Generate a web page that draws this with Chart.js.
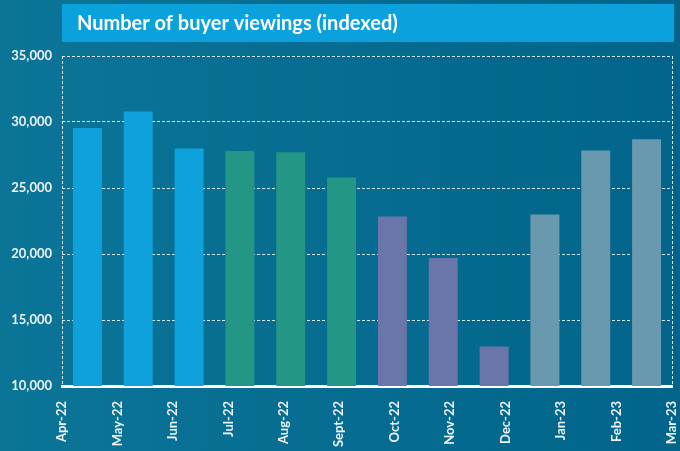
<!DOCTYPE html>
<html>
<head>
<meta charset="utf-8">
<script src="https://cdn.jsdelivr.net/npm/chart.js@4/dist/chart.umd.min.js"></script>
<style>
  html, body { margin: 0; padding: 0; }
  #wrap { width: 680px; height: 451px; position: relative; }
</style>
</head>
<body>
<div id="wrap"><canvas id="myChart"></canvas></div>
<script>
var months = ['Apr-22', 'May-22', 'Jun-22', 'Jul-22', 'Aug-22', 'Sept-22',
              'Oct-22', 'Nov-22', 'Dec-22', 'Jan-23', 'Feb-23', 'Mar-23'];
var viewings = [29550, 30800, 28000, 27800, 27700, 25800,
                22850, 19700, 13000, 23000, 27850, 28700];
var yTicks = [10000, 15000, 20000, 25000, 30000, 35000];
var chartTitle = 'Number of buyer viewings (indexed)';

var barColours = ['#0ea1dc', '#0ea1dc', '#0ea1dc',
                  '#239686', '#239686', '#239686',
                  '#6a76a9', '#6a76a9', '#6a76a9',
                  '#6899ae', '#6899ae', '#6899ae'];

var gridColour = 'rgba(240,246,250,0.9)';
var labelColour = '#eef4f7';
var labelFont = { family: 'Lato', size: 13, weight: 'bold' };

// background gradient + title banner
var backdrop = {
    id: 'backdrop',
    beforeDraw: function (chart) {
        var ctx = chart.ctx;
        var w = chart.width, h = chart.height;
        ctx.save();
        var g = ctx.createLinearGradient(0, 0, w, 0);
        g.addColorStop(0, '#0b7598');
        g.addColorStop(1, '#02648a');
        ctx.fillStyle = g;
        ctx.fillRect(0, 0, w, h);

        ctx.fillStyle = '#0ba1dc';
        ctx.fillRect(62, 4, 612, 38);
        ctx.fillStyle = '#ffffff';
        ctx.font = 'bold 20px Lato';
        ctx.textBaseline = 'alphabetic';
        ctx.fillText(chartTitle, 77, 30);
        ctx.restore();
    }
};

var ctx = document.getElementById('myChart').getContext('2d');

var config = {
    type: 'bar',
    data: {
        labels: months,
        datasets: [{
            label: chartTitle,
            data: viewings,
            backgroundColor: barColours,
            barPercentage: 0.57,
            categoryPercentage: 1,
            xAxisID: 'x',
            yAxisID: 'y'
        }]
    },
    options: {
        responsive: true,
        maintainAspectRatio: false,
        animation: false,
        layout: { padding: { top: 56, right: 8, left: 0, bottom: 0 } },
        plugins: {
            legend: { display: false },
            title: { display: false },
            tooltip: { enabled: false }
        },
        scales: {
            x: {
                display: false,
                offset: true
            },
            // month labels sit on the category edges
            xLabels: {
                type: 'category',
                labels: months,
                position: 'bottom',
                offset: false,
                grid: { display: false, drawTicks: false, offset: false },
                border: { display: true, color: '#ffffff', width: 3 },
                ticks: {
                    autoSkip: false,
                    minRotation: 90,
                    maxRotation: 90,
                    padding: 15,
                    color: labelColour,
                    font: labelFont
                },
                afterFit: function (scale) {
                    scale.height = 65;
                    scale.paddingLeft = 0;
                    scale.paddingRight = 0;
                }
            },
            // dotted frame left and right: two empty ticks at the edges
            xFrame: {
                type: 'category',
                labels: ['', ''],
                position: 'bottom',
                offset: false,
                grid: { color: gridColour, lineWidth: 1, drawTicks: false, offset: false },
                border: { display: false, dash: [3, 2] },
                ticks: { display: false },
                afterFit: function (scale) {
                    scale.height = 0;
                    scale.paddingLeft = 0;
                    scale.paddingRight = 0;
                }
            },
            y: {
                min: 10000,
                max: 35000,
                afterBuildTicks: function (scale) {
                    scale.ticks = yTicks.map(function (v) { return { value: v }; });
                },
                grid: { color: gridColour, lineWidth: 1, drawTicks: false },
                border: { display: false, dash: [3, 2] },
                ticks: {
                    padding: 10,
                    color: labelColour,
                    font: labelFont,
                    callback: function (v) { return v.toLocaleString('en-GB'); }
                },
                afterFit: function (scale) { scale.width = 62; }
            }
        }
    },
    plugins: [backdrop]
};

var myChart = new Chart(ctx, config);
</script>
</body>
</html>
